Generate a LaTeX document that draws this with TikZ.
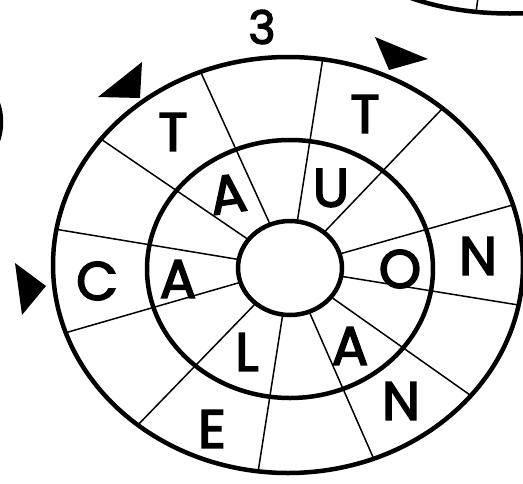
\documentclass[tikz,border=0pt]{standalone}
\usepackage{fontspec}
\setmainfont{Poppins}
\newfontfamily\puzzlefont{Poppins}[FakeBold=3]
\begin{document}
\begin{tikzpicture}[x=1pt,y=-1pt]
    \tikzset{ring/.style={line width=4.5pt},
      spoke/.style={line width=1.5pt},
      letter/.style={font=\fontsize{54}{54}\puzzlefont,inner sep=0pt},
      barb/.style={fill=black}}
    \useasboundingbox (0,0) rectangle (523,483);
    \clip (0,0) rectangle (523,483);
    \coordinate (hub) at (290,268);
    % spokes, kept inside the outer ring
    \begin{scope}
      \clip (288,265) ellipse [x radius=235, y radius=208];
      \foreach \a in {145.7,114.5,81.1,46.3,15.8,-9.2,-35.2,-66.3,-98.9,-134.1,-163.9,170.6}
        \draw[spoke] (hub) -- ++(-\a:330);
    \end{scope}
    \fill[white] (hub) ellipse [x radius=52, y radius=47];
    \draw[ring] (hub) ellipse [x radius=52, y radius=47];
    \draw[ring] (290,269) ellipse [x radius=143, y radius=129];
    \draw[ring] (288,265) ellipse [x radius=235, y radius=208];
    % neighbouring puzzles
    \draw[ring] (510,-60) ellipse [x radius=161, y radius=73.5];
    \draw[spoke] (476,12) -- (478,-2);
    \draw[ring] (-62,122) ellipse [x radius=63, y radius=60];
    % arrow marks
    \fill[barb] (15,263) -- (46,286) -- (22,315) -- cycle;
    \fill[barb] (98,97) -- (142,62) -- (140,98) -- cycle;
    \fill[barb] (375,37) -- (428,59) -- (389,70) -- cycle;
    \node[font=\fontsize{46}{46}\puzzlefont,inner sep=0pt] (num) at (262,27) {3};
    % outer ring
    \node[letter] (outC) at (97,281) {C};
    \node[letter] (outT1) at (173,132) {T};
    \node[letter] (outT2) at (365,114) {T};
    \node[letter] (outN1) at (478,256) {N};
    \node[letter] (outN2) at (401,401) {N};
    \node[letter] (outE) at (212,429) {E};
    % middle ring
    \node[letter] (midA1) at (178,279) {A};
    \node[letter,rotate=8] (midA2) at (228,194) {A};
    \node[letter] (midU) at (331,188) {U};
    \node[letter] (midO) at (400,269) {O};
    \node[letter] (midA3) at (350,346) {A};
    \node[letter] (midL) at (247,352) {L};
\end{tikzpicture}
\end{document}
